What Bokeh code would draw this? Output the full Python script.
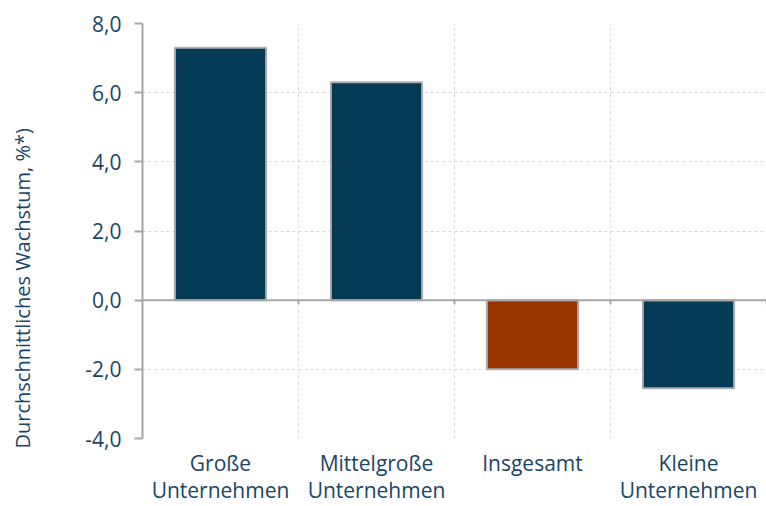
from bokeh.plotting import figure
from bokeh.models import (Range1d, FixedTicker, CustomJSTickFormatter, Span,
                          ColumnDataSource, LinearAxis, Title)
from bokeh.embed import file_html
from bokeh.resources import INLINE

categories = ["Große\nUnternehmen", "Mittelgroße\nUnternehmen", "Insgesamt", "Kleine\nUnternehmen"]
values = [7.3, 6.3, -2.0, -2.55]
colors = ["#043A56", "#043A56", "#993300", "#043A56"]
y_ticks = [-4, -2, 0, 2, 4, 6, 8]
y_title = "Durchschnittliches Wachstum, %*)"

FONT = "Open Sans"
TEXT = "#1A4566"
GRAY = "#A6A6A6"

n = len(categories)
xs = [i + 0.5 for i in range(n)]
src = ColumnDataSource(dict(x=xs, top=values, color=colors))

p = figure(width=766, height=506, output_backend="svg", toolbar_location=None,
           x_range=Range1d(0, n), y_range=Range1d(min(y_ticks), max(y_ticks)),
           min_border_left=142, min_border_top=23, min_border_bottom=68, min_border_right=0)
p.outline_line_color = None
p.background_fill_color = "white"
p.border_fill_color = "white"

p.vbar(x="x", top="top", bottom=0, width=0.585, fill_color="color",
       line_color="#AFAFAF", line_width=2, source=src)

p.add_layout(Span(location=0, dimension="width", line_color=GRAY, line_width=2))
bx = list(range(1, n + 1))
p.segment(x0=bx, y0=[0] * n, x1=bx, y1=[-0.12] * n, line_color=GRAY, line_width=2)

# grids
p.ygrid.ticker = FixedTicker(ticks=y_ticks)
p.xgrid.ticker = FixedTicker(ticks=bx)
for g in (p.xgrid, p.ygrid):
    g.grid_line_color = "#D9D9D9"
    g.grid_line_dash = "3 3"
    g.grid_line_width = 1

# y axis
ya = p.yaxis[0]
ya.ticker = FixedTicker(ticks=y_ticks)
ya.formatter = CustomJSTickFormatter(code="return tick.toFixed(1).replace('.', ',');")
ya.axis_line_color = GRAY
ya.axis_line_width = 2
ya.major_tick_line_color = GRAY
ya.major_tick_line_width = 2
ya.major_tick_out = 8
ya.major_tick_in = 0
ya.minor_tick_line_color = None
ya.major_label_standoff = 13
ya.major_label_text_font = FONT
ya.major_label_text_font_size = "21px"
ya.major_label_text_color = TEXT

# invisible spacer axis (white tick on white, no label) to push the title outward
spacer = LinearAxis(ticker=FixedTicker(ticks=[1]), axis_line_color=None,
                    formatter=CustomJSTickFormatter(code="return '';"),
                    major_tick_line_color="white", minor_tick_line_color=None,
                    major_tick_out=45, major_tick_in=0, major_label_standoff=0)
p.add_layout(spacer, "left")

# y title
p.add_layout(Title(text=y_title, align="left", offset=-10, standoff=4,
                   text_font=FONT, text_font_size="20px", text_font_style="normal",
                   text_color=TEXT), "left")

# x axis
xa = p.xaxis[0]
xa.ticker = FixedTicker(ticks=xs)
xa.formatter = CustomJSTickFormatter(args=dict(labels=categories),
                                     code="return labels[Math.floor(tick)];")
xa.axis_line_color = None
xa.major_tick_line_color = None
xa.minor_tick_line_color = None
xa.major_label_standoff = 4
xa.major_label_text_font = FONT
xa.major_label_text_font_size = "21px"
xa.major_label_text_line_height = 0.97
xa.major_label_text_color = TEXT

open("out.html", "w").write(file_html(p, INLINE))
